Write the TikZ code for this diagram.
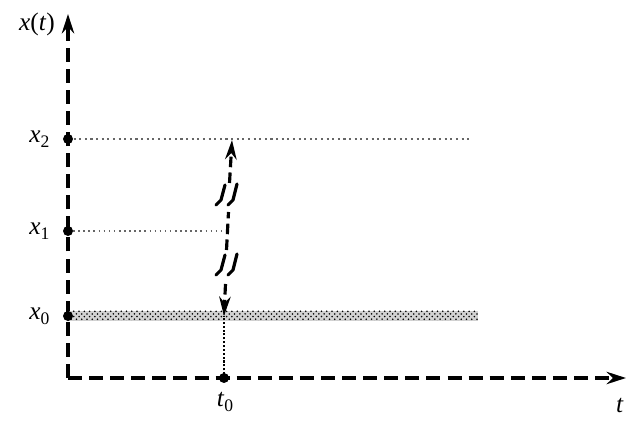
\documentclass[tikz,border=0pt]{standalone}
\usepackage{fontspec}
\setmainfont{Liberation Serif}
\usetikzlibrary{arrows.meta,patterns}
\newcommand{\sub}[2]{\textit{#1}\raisebox{-0.4ex}{\normalsize #2}}

\begin{document}
\begin{tikzpicture}[x=0.02cm,y=-0.02cm,
  axis/.style={line width=2pt,dash pattern=on 8pt off 4pt,-{Stealth[length=11pt,width=7pt]}},
  jump/.style={line width=1.8pt,dash pattern=on 6pt off 3pt},
  tip/.style={-{Stealth[length=11pt,width=6.5pt]}},
  bolt/.style={line width=1.8pt,line cap=round,line join=round},
  lbl/.style={font=\Large}]
  \useasboundingbox (0,0) rectangle (630,422);
  \coordinate (O) at (68,378); \coordinate (Y) at (68,14); \coordinate (T) at (626,378);
  \coordinate (X0) at (68,316); \coordinate (X1) at (68,231); \coordinate (X2) at (68,139);
  \coordinate (E0) at (478,316); \coordinate (E1) at (222,231); \coordinate (E2) at (470,139);
  \coordinate (T0) at (224,378); \coordinate (P0) at (224,316); \coordinate (P2) at (232,140);
  \draw[axis] (O)--(Y);
  \draw[axis] (O)--(T);
  \fill[gray!35] (68,311) rectangle (478,321);
  \fill[pattern=crosshatch dots] (68,311) rectangle (478,321);
  \draw[dotted,line width=1.2pt,gray!80!black] (X2)--(E2);
  \draw[dotted,line width=0.9pt,gray!80!black] (X1)--(E1);
  \draw[densely dotted,line width=1.2pt] (T0)--(P0);
  % jump
  \draw[jump,tip] (225.5,284)--(P0);
  \draw[jump] (226.5,250)--(228.5,212);
  \draw[jump,tip] (229.5,183)--(P2);
  \foreach \y in {196,266}{
    \draw[bolt] (225,\y-11)--(221,\y+4)--(216,\y+9);
    \draw[bolt] (237,\y-12)--(233,\y+4)--(228,\y+9);
  }
  \foreach \p/\t in {X0/0,X1/1,X2/2}\fill(\p)circle(5)node[left=7pt,lbl]{\sub{x}{\t}};
  \fill (T0) circle(5);
  \node[lbl] (t0) at (225,402) {\sub{t}{0}};
  \node[lbl] (xt) at (37,24) {\textit{x}(\textit{t})};
  \node[lbl] (tl) at (620,406) {\textit{t}};
\end{tikzpicture}
\end{document}
